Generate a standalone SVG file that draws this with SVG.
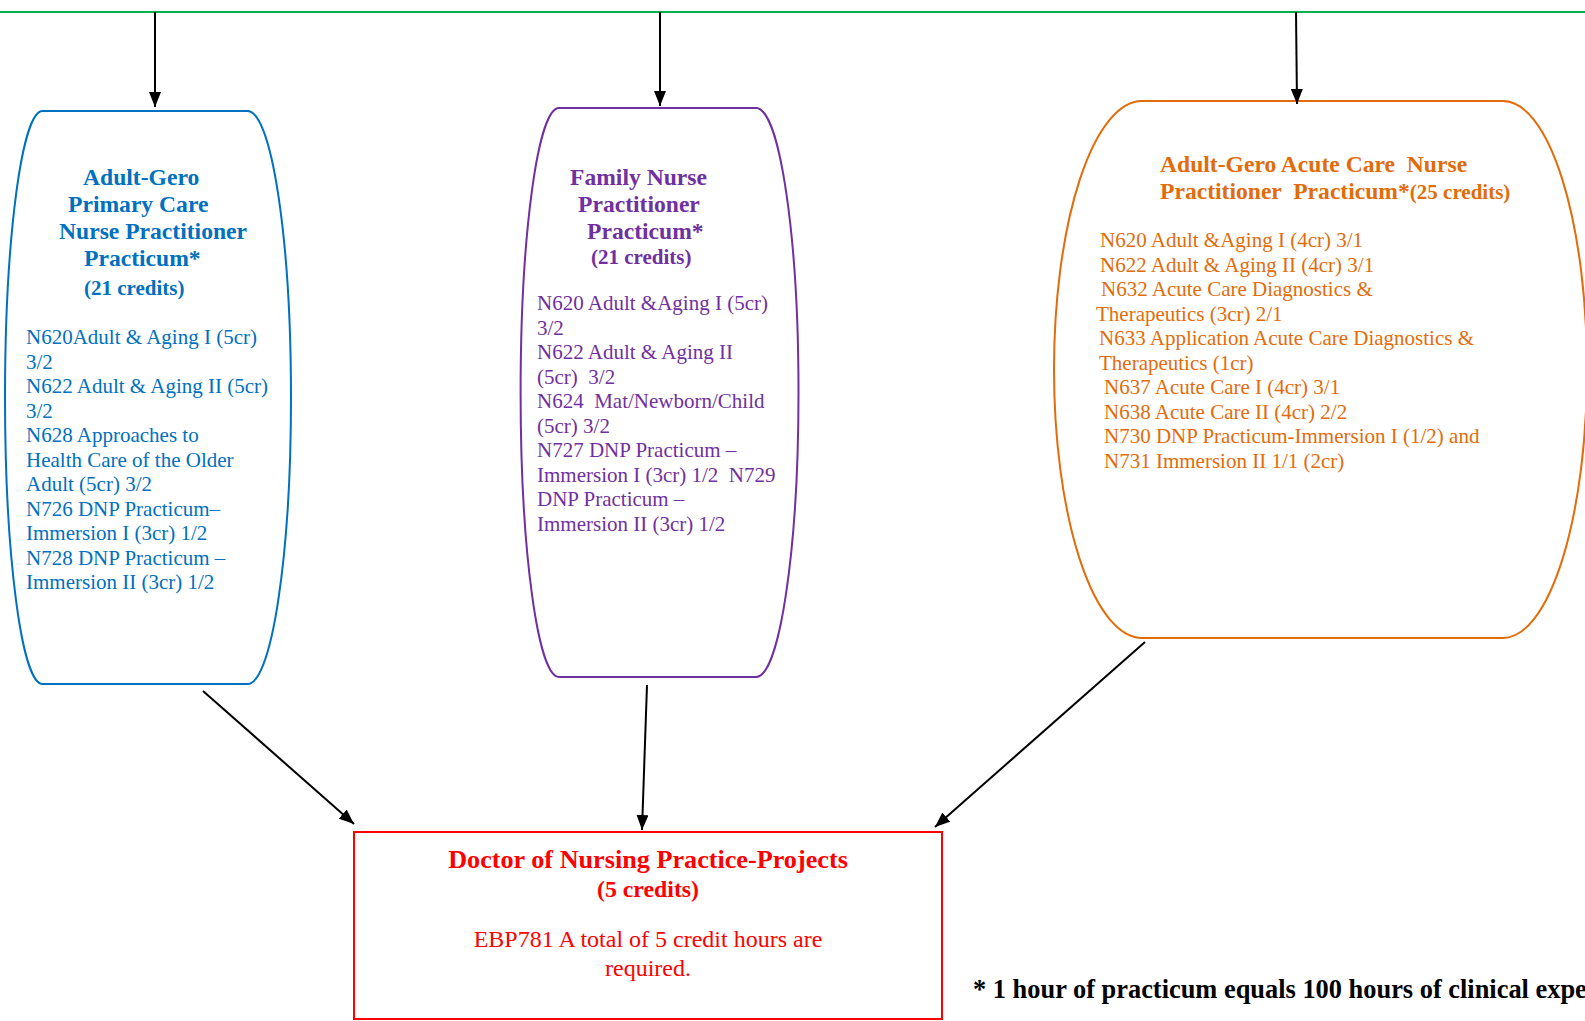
<svg xmlns="http://www.w3.org/2000/svg" width="1585" height="1021" viewBox="0 0 1585 1021">
<style>
text { font-family: "Liberation Serif", "Times New Roman", serif; }
.t { font-weight: bold; font-size: 23.6px; }
.s { font-weight: bold; font-size: 21px; }
.b { font-size: 21px; }
.blue { fill: #0070c0; }
.purple { fill: #7030a0; }
.orange { fill: #e36c0a; }
.red { fill: #ff0000; }
.shape { fill: #ffffff; stroke-width: 2; }
.conn { stroke: #000000; stroke-width: 2; fill: none; marker-end: url(#arrow); }
</style>
<defs>
<marker id="arrow" viewBox="0 0 15 12" refX="15" refY="6" markerWidth="15" markerHeight="12" markerUnits="userSpaceOnUse" orient="auto">
<path d="M0,0 L15,6 L0,12 Z" fill="#000000"/>
</marker>
</defs>
<rect x="0" y="0" width="1585" height="1021" fill="#ffffff"/>

<g id="top-line">
<line x1="0" y1="12" x2="1585" y2="12" stroke="#00b050" stroke-width="2"/>
</g>

<g id="node-agpc">
<path class="shape" stroke="#0070c0" d="M 42.5 111 L 247.6 111 A 43.4 286.5 0 0 1 247.6 684 L 42.5 684 A 37.5 286.5 0 0 1 42.5 111 Z"/>
<text class="t blue" x="83" y="185">Adult-Gero</text>
<text class="t blue" x="68" y="212">Primary Care</text>
<text class="t blue" x="59" y="239">Nurse Practitioner</text>
<text class="t blue" x="84" y="266">Practicum*</text>
<text class="s blue" x="84" y="295">(21 credits)</text>
<text class="b blue" x="26" y="344">N620Adult &amp; Aging I (5cr)</text>
<text class="b blue" x="26" y="368.5">3/2</text>
<text class="b blue" x="26" y="393">N622 Adult &amp; Aging II (5cr)</text>
<text class="b blue" x="26" y="417.5">3/2</text>
<text class="b blue" x="26" y="442">N628 Approaches to</text>
<text class="b blue" x="26" y="466.5">Health Care of the Older</text>
<text class="b blue" x="26" y="491">Adult (5cr) 3/2</text>
<text class="b blue" x="26" y="515.5">N726 DNP Practicum–</text>
<text class="b blue" x="26" y="540">Immersion I (3cr) 1/2</text>
<text class="b blue" x="26" y="564.5">N728 DNP Practicum –</text>
<text class="b blue" x="26" y="589">Immersion II (3cr) 1/2</text>
</g>

<g id="node-fnp">
<path class="shape" stroke="#7030a0" d="M 559 108 L 756 108 A 42.5 284.5 0 0 1 756 677 L 559 677 A 38.4 284.5 0 0 1 559 108 Z"/>
<text class="t purple" x="570" y="185">Family Nurse</text>
<text class="t purple" x="578" y="212">Practitioner</text>
<text class="t purple" x="587" y="239">Practicum*</text>
<text class="s purple" x="591" y="264">(21 credits)</text>
<text class="b purple" x="537" y="310">N620 Adult &amp;Aging I (5cr)</text>
<text class="b purple" x="537" y="334.5">3/2</text>
<text class="b purple" x="537" y="359">N622 Adult &amp; Aging II</text>
<text class="b purple" x="537" y="383.5" xml:space="preserve">(5cr)  3/2</text>
<text class="b purple" x="537" y="408" xml:space="preserve">N624  Mat/Newborn/Child</text>
<text class="b purple" x="537" y="432.5">(5cr) 3/2</text>
<text class="b purple" x="537" y="457">N727 DNP Practicum –</text>
<text class="b purple" x="537" y="481.5" xml:space="preserve">Immersion I (3cr) 1/2  N729</text>
<text class="b purple" x="537" y="506">DNP Practicum –</text>
<text class="b purple" x="537" y="530.5">Immersion II (3cr) 1/2</text>
</g>

<g id="node-agac">
<path class="shape" stroke="#e36c0a" d="M 1142 101 L 1503 101 A 84 268.5 0 0 1 1503 638 L 1142 638 A 88 268.5 0 0 1 1142 101 Z"/>
<text class="t orange" x="1160" y="172" xml:space="preserve">Adult-Gero Acute Care  Nurse</text>
<text class="t orange" x="1160" y="199" xml:space="preserve">Practitioner  Practicum*<tspan font-size="21">(25 credits)</tspan></text>
<text class="b orange" x="1100" y="247">N620 Adult &amp;Aging I (4cr) 3/1</text>
<text class="b orange" x="1100" y="271.5">N622 Adult &amp; Aging II (4cr) 3/1</text>
<text class="b orange" x="1101" y="296">N632 Acute Care Diagnostics &amp;</text>
<text class="b orange" x="1096" y="320.5">Therapeutics (3cr) 2/1</text>
<text class="b orange" x="1099" y="345">N633 Application Acute Care Diagnostics &amp;</text>
<text class="b orange" x="1099" y="369.5">Therapeutics (1cr)</text>
<text class="b orange" x="1104" y="394">N637 Acute Care I (4cr) 3/1</text>
<text class="b orange" x="1104" y="418.5">N638 Acute Care II (4cr) 2/2</text>
<text class="b orange" x="1104" y="443">N730 DNP Practicum-Immersion I (1/2) and</text>
<text class="b orange" x="1104" y="467.5">N731 Immersion II 1/1 (2cr)</text>
</g>

<g id="node-dnp">
<rect class="shape" stroke="#ff0000" x="354" y="832" width="588" height="187"/>
<text class="red" x="648" y="868" text-anchor="middle" font-weight="bold" font-size="26.2">Doctor of Nursing Practice-Projects</text>
<text class="red" x="648" y="897" text-anchor="middle" font-weight="bold" font-size="23.8">(5 credits)</text>
<text class="red" x="648" y="947" text-anchor="middle" font-size="24">EBP781 A total of 5 credit hours are</text>
<text class="red" x="648" y="976" text-anchor="middle" font-size="24">required.</text>
</g>

<g id="footnote">
<text x="973" y="998" font-weight="bold" font-size="26.4" fill="#000000">* 1 hour of practicum equals 100 hours of clinical expe</text>
</g>

<g id="connectors">
<line class="conn" x1="155" y1="12" x2="155" y2="107"/>
<line class="conn" x1="660" y1="12" x2="660" y2="106"/>
<line class="conn" x1="1296" y1="12" x2="1297" y2="104"/>
<line class="conn" x1="203" y1="691" x2="354" y2="824"/>
<line class="conn" x1="647" y1="685" x2="642" y2="830"/>
<line class="conn" x1="1145" y1="642" x2="935" y2="827"/>
</g>
</svg>
